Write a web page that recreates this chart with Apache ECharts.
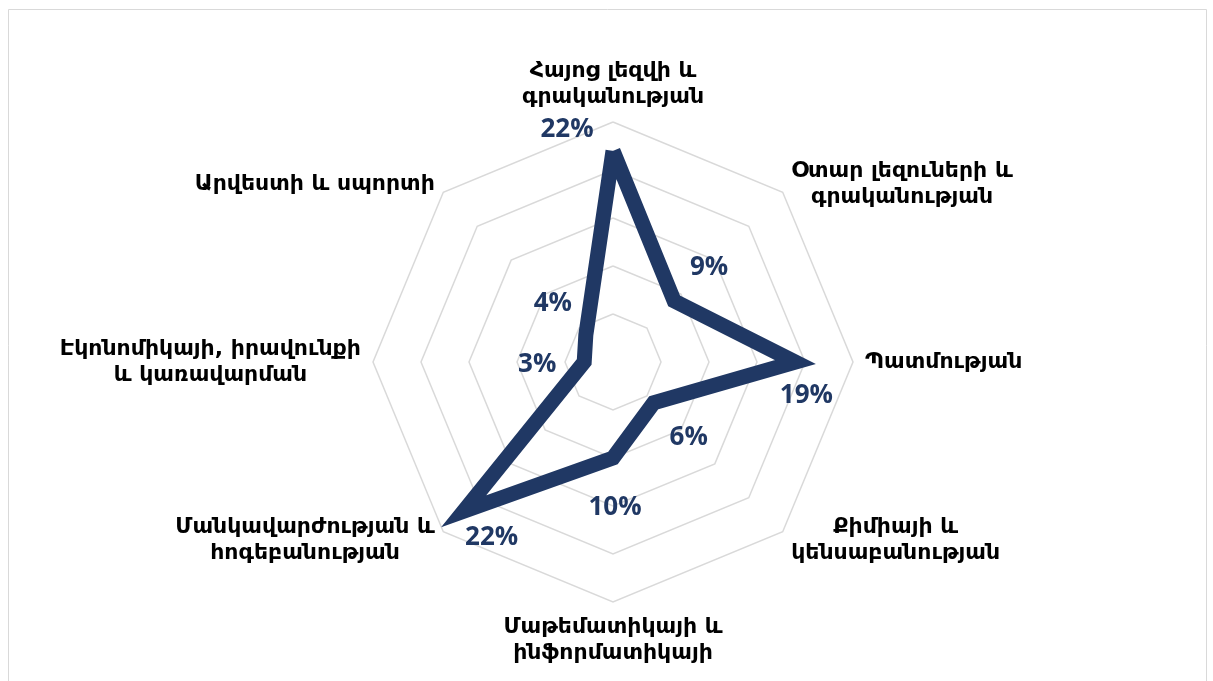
<!DOCTYPE html>
<html>
<head>
<meta charset="utf-8">
<script src="https://cdn.jsdelivr.net/npm/echarts/dist/echarts.min.js"></script>
<style>
html,body{margin:0;padding:0;background:#fff;}
#chart{width:1213px;height:681px;}
</style>
</head>
<body>
<div id="chart"></div>
<script>
// ---- data ----
const categories = [
  'Հայոց լեզվի և\nգրականության',
  'Օտար լեզուների և\nգրականության',
  'Պատմության',
  'Քիմիայի և\nկենսաբանության',
  'Մաթեմատիկայի և\nինֆորմատիկայի',
  'Մանկավարժության և\nհոգեբանության',
  'Էկոնոմիկայի, իրավունքի\nև կառավարման',
  'Արվեստի և սպորտի'
];
const shares = [22, 9, 19, 6, 10, 22, 3, 4];
const axisMax = 25;
const ringCount = 5;

// ---- styles (label offsets, not data) ----
const labelOffsets = [[-46,-21],[35,-33],[11,34],[35,35],[2,50],[28,26],[-47,3],[-33,-31]];
const NAVY = '#203864';

// radar places indicators counter-clockwise; reorder so they run clockwise like the reference
const order = [0,7,6,5,4,3,2,1];

const chart = echarts.init(document.getElementById('chart'));
const CENTER = [613, 362];
const RADIUS = 240;

chart.setOption({
  animation: false,
  backgroundColor: '#fff',
  graphic: [{
    type: 'rect', left: 6, top: 7,
    shape: {width: 1198, height: 700},
    style: {fill: 'none', stroke: '#d9d9d9', lineWidth: 1},
    silent: true
  }],
  radar: {
    center: CENTER,
    radius: RADIUS,
    startAngle: 90,
    shape: 'polygon',
    splitNumber: ringCount,
    nameGap: 12,
    indicator: order.map(i => ({name: categories[i], min: 0, max: axisMax})),
    axisLine: {show: false},
    axisTick: {show: false},
    axisLabel: {show: false},
    splitArea: {show: false},
    splitLine: {lineStyle: {color: '#d9d9d9', width: 1.5}},
    axisName: {
      color: '#000',
      fontFamily: 'DejaVu Sans',
      fontSize: 22,
      fontWeight: 'bold',
      formatter: function (name) {
        return name.split('\n').map(l => '{c|' + l + '}').join('\n');
      },
      rich: {
        c: {align: 'center', color: '#000', fontFamily: 'DejaVu Sans', fontSize: 22, fontWeight: 'bold', lineHeight: 26}
      }
    }
  },
  polar: {center: CENTER, radius: RADIUS},
  angleAxis: {
    type: 'category',
    data: categories,
    boundaryGap: false,
    startAngle: 90,
    clockwise: true,
    show: false
  },
  radiusAxis: {min: 0, max: axisMax, show: false},
  series: [
    {
      type: 'radar',
      symbol: 'none',
      lineStyle: {color: NAVY, width: 15, join: 'miter', miterLimit: 8},
      data: [{value: order.map(i => shares[i])}],
      z: 2
    },
    {
      type: 'scatter',
      coordinateSystem: 'polar',
      symbolSize: 2,
      itemStyle: {color: 'rgba(0,0,0,0)', opacity: 1},
      z: 3,
      label: {
        show: true,
        position: 'inside',
        formatter: p => p.value[0] + '%',
        color: NAVY,
        opacity: 1,
        fontFamily: 'Open Sans',
        fontWeight: 'bold',
        fontSize: 26
      },
      data: shares.map((v, i) => ({value: [v, i], label: {offset: labelOffsets[i]}}))
    }
  ]
});
</script>
</body>
</html>
